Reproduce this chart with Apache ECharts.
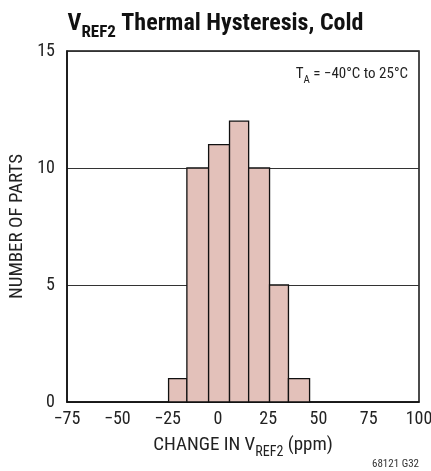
<!DOCTYPE html>
<html>
<head>
<meta charset="utf-8">
<script src="https://cdn.jsdelivr.net/npm/echarts@6/dist/echarts.min.js"></script>
<style>
  html, body { margin: 0; padding: 0; background: #fff; }
  #chart { width: 431px; height: 471px; }
</style>
</head>
<body>
<div id="chart"></div>
<script>
// histogram bin edges (ppm) and counts
var binEdges = [-24.5, -15.4, -4.6, 5.8, 15.3, 25.7, 35.1, 45.6];
var counts = [1, 10, 11, 12, 10, 5, 1];
var xTicks = [-75, -50, -25, 0, 25, 50, 75, 100];
var yTicks = [0, 5, 10, 15];

var FONT = '"Roboto Condensed", Roboto, sans-serif';

var bars = [];
for (var i = 0; i < counts.length; i++) {
    bars.push([binEdges[i], binEdges[i + 1], counts[i]]);
}

var chart = echarts.init(document.getElementById('chart'));

chart.setOption({
    animation: false,
    title: {
        text: '{v|V}{sub|REF2}{v| Thermal Hysteresis, Cold}',
        left: 'center',
        top: 3,
        textStyle: {
            rich: {
                v: { fontFamily: FONT, fontWeight: 'bold', fontSize: 24, color: '#111', verticalAlign: 'bottom', lineHeight: 28 },
                sub: { fontFamily: FONT, fontWeight: 'bold', fontSize: 17, color: '#111', verticalAlign: 'bottom', lineHeight: 21, padding: [0, 0, -5, 0] }
            }
        }
    },
    grid: {
        left: 67,
        right: 12,
        top: 51,
        bottom: 69,
        outerBoundsMode: 'none',
        show: true,
        borderColor: '#111',
        borderWidth: 1.5
    },
    xAxis: {
        type: 'value',
        min: xTicks[0],
        max: xTicks[xTicks.length - 1],
        interval: 25,
        axisLine: { show: true, onZero: false, lineStyle: { color: '#111', width: 1.5 } },
        axisTick: { show: false },
        splitLine: { show: false },
        axisLabel: {
            color: '#222', fontFamily: FONT, fontSize: 18, margin: 8,
            formatter: function (v) { return v < 0 ? '\u2212' + Math.abs(v) : String(v); }
        },
        name: '{t|CHANGE IN V}{s|REF2}{t| (ppm)}',
        nameLocation: 'middle',
        nameGap: 31,
        nameTextStyle: {
            rich: {
                t: { fontFamily: FONT, fontSize: 19, color: '#222', verticalAlign: 'bottom', lineHeight: 22 },
                s: { fontFamily: FONT, fontSize: 14, color: '#222', verticalAlign: 'bottom', lineHeight: 16, padding: [0, 0, -4, 0] }
            }
        }
    },
    yAxis: {
        type: 'value',
        min: yTicks[0],
        max: yTicks[yTicks.length - 1],
        interval: 5,
        axisLine: { show: true, onZero: false, lineStyle: { color: '#111', width: 1.5 } },
        axisTick: { show: false },
        splitLine: { show: true, lineStyle: { color: '#333', width: 1 } },
        axisLabel: { color: '#222', fontFamily: FONT, fontSize: 18, margin: 12 },
        name: 'NUMBER OF PARTS',
        nameLocation: 'middle',
        nameGap: 40,
        nameTextStyle: { fontFamily: FONT, fontSize: 19, color: '#222' }
    },
    graphic: [
        {
            type: 'text',
            right: 23,
            top: 67,
            style: {
                text: '{t|T}{s|A}{t| = \u221240\u00b0C to 25\u00b0C}',
                rich: {
                    t: { fontFamily: FONT, fontSize: 15, fill: '#222', verticalAlign: 'bottom', lineHeight: 18 },
                    s: { fontFamily: FONT, fontSize: 11, fill: '#222', verticalAlign: 'bottom', lineHeight: 13, padding: [0, 0, -4, 0] }
                }
            }
        },
        {
            type: 'text',
            right: 12,
            bottom: 1,
            style: { text: '68121 G32', fontFamily: FONT, fontSize: 11, fill: '#333' }
        }
    ],
    series: [{
        type: 'custom',
        data: bars,
        encode: { x: [0, 1], y: 2 },
        renderItem: function (params, api) {
            var p0 = api.coord([api.value(0), api.value(2)]);
            var p1 = api.coord([api.value(1), 0]);
            return {
                type: 'rect',
                shape: { x: p0[0], y: p0[1], width: p1[0] - p0[0], height: p1[1] - p0[1] },
                style: { fill: '#e3c1ba', stroke: '#111', lineWidth: 1.3 }
            };
        }
    }]
});
</script>
</body>
</html>
